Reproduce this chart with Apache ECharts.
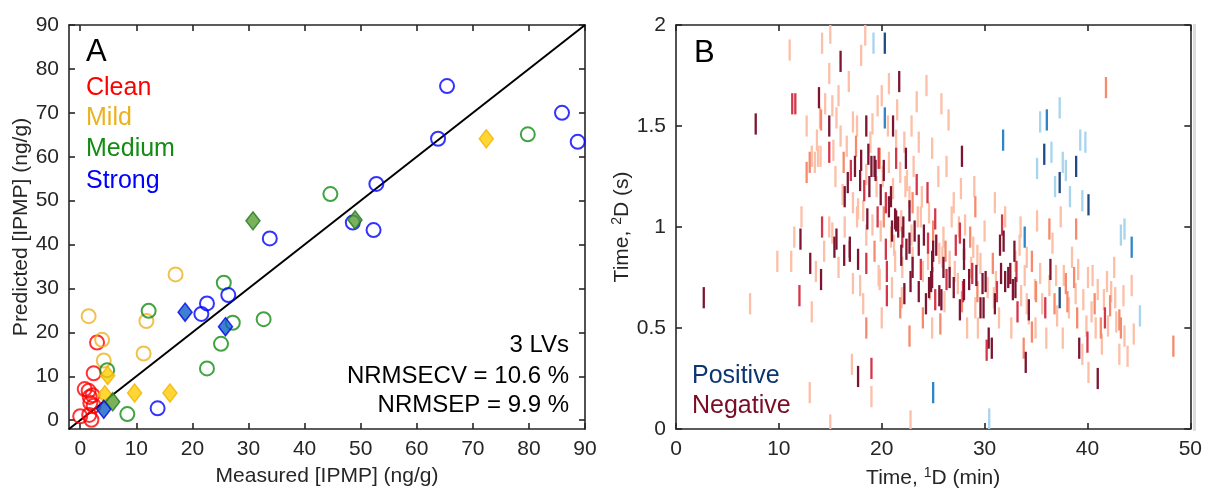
<!DOCTYPE html>
<html><head><meta charset="utf-8">
<script src="https://cdn.jsdelivr.net/npm/echarts@6/dist/echarts.min.js"></script>
<style>html,body{margin:0;padding:0;background:#fff}#c{width:1205px;height:495px}</style>
</head><body><div id="c"></div>
<script>
// ---------- Panel A data: [measured, predicted] ----------
const cleanOpen   = [[0.0,0.9],[0.8,7.1],[1.5,6.7],[2.2,5.7],[1.8,3.9],[1.7,5.3],[2.4,3.3],[1.6,1.2],[2.0,0.1],[2.4,10.7],[3.0,17.7]];
const mildOpen    = [[1.5,23.7],[3.9,18.3],[4.2,13.6],[11.3,15.2],[11.8,22.6],[17.0,33.2]];
const mildTest    = [[4.9,10.2],[4.4,5.8],[9.7,6.2],[16.0,6.2],[72.4,64.1]];
const mediumOpen  = [[4.8,11.4],[8.4,1.4],[12.2,24.9],[22.6,11.8],[25.1,17.4],[25.6,31.3],[27.2,22.2],[32.7,23.0],[44.6,51.5],[79.8,65.1]];
const mediumTest  = [[5.8,4.2],[30.8,45.4],[49.0,45.6]];
const strongOpen  = [[13.8,2.7],[21.6,24.2],[22.6,26.6],[26.4,28.5],[33.8,41.4],[48.6,45.0],[52.3,43.3],[52.8,53.8],[63.8,64.1],[65.4,76.1],[85.9,70.0],[88.7,63.4]];
const strongTest  = [[4.2,2.5],[18.7,24.6],[25.9,21.3]];
const identityEnds = [-2, 90];
const aTicks = [0,10,20,30,40,50,60,70,80,90];
const aRange = [-2, 90];

// ---------- Panel B data: [1D time (min), 2D time (s)] ----------
const negLight = [[11.05,1.876],[14.2,1.91],[15.0,1.96],[18.4,1.95],[14.9,1.76],[20.7,1.71],[20.0,1.65],[14.5,1.61],[15.8,1.65],[15.2,1.60],[12.7,1.50],[14.0,1.54],[17.2,1.52],[17.6,1.50],[19.1,1.51],[20.6,1.50],[13.8,1.35],[13.5,1.32],[17.2,1.12],[18.2,1.08],[17.6,1.05],[14.9,1.00],[9.85,0.83],[11.2,0.83],[13.6,0.78],[7.2,0.62],[13.2,0.58],[17.2,0.72],[17.9,0.71],[19.8,0.74],[17.1,0.32],[19.0,0.16],[13.0,0.18],[15.0,0.02],[24.9,0.50],[19.7,0.76],[21.95,0.65],[26.1,0.63],[27.4,0.72],[24.7,0.69],[22.8,0.04],
  [13.2,1.35],[13.7,1.43],[14.05,1.35],[15.5,1.25],[15.6,1.54],[16.2,1.16],[17.7,1.09],[18.5,1.26],[21.4,1.43],[20.7,1.32],[22.2,1.42],[22.9,1.50],[23.6,1.42],[24.9,1.39],[26.5,1.53],[27.7,1.19],[24.6,1.07],[27.0,1.12],[22.3,1.20],[22.45,1.23],[22.7,1.15],[21.1,1.19],[21.9,1.03],[22.9,0.96],[23.5,1.05],[23.8,1.05],[24.5,0.84],[25.6,0.87],[25.9,0.85],[27.5,1.00],[15.2,0.97],[16.4,1.00],[18.5,0.96],[19.1,1.01],[19.9,0.98],[20.9,0.95],[21.2,0.91],
  [31.0,1.12],[35.1,1.03],[37.4,1.05],[36.6,0.92],[33.4,0.91],[34.1,0.85],[28.1,1.01],[28.9,0.90],[29.3,0.86],[24.35,1.70],[25.8,1.61],
  [29.35,0.50],[28.3,0.50],[29.1,0.60],[33.55,0.66],[33.9,0.76],[34.1,0.62],[34.3,0.57],[34.95,0.50],[34.9,0.69],[36.3,0.71],[36.95,0.76],[37.05,0.56],[37.7,0.76],[38.2,0.60],[38.85,0.67],[39.1,0.79],[39.6,0.64],[40.05,0.75],[40.5,0.76],[39.9,0.51],[39.5,0.37],[40.1,0.28],[40.8,0.50],[41.0,0.69],[41.6,0.64],[41.9,0.73],[42.0,0.51],[42.3,0.68],[42.7,0.65],[42.8,0.53],[43.1,0.37],[43.5,0.66],[43.6,0.46],[43.9,0.36],[44.3,0.71],[44.5,0.47],[31.1,0.73],[35.4,0.77],
  [16.0,1.45],[16.6,1.40],[15.3,1.38],[18.9,1.42],[19.5,1.20],[20.1,1.25],[21.8,1.27],[23.1,1.30],[23.9,1.15],[25.5,1.25],[26.3,1.30],[26.8,1.05],[21.3,0.83],[22.0,0.80],[23.0,0.85],[26.6,0.83],[27.1,0.78],[28.7,0.80],[29.6,0.82],[30.3,0.70],[30.9,0.65],[31.4,0.55],[32.6,0.50],[33.0,0.83],[35.6,0.62],[36.0,0.45],[37.6,0.45],[38.5,0.85],[40.4,0.58],[41.4,0.42],[42.6,0.80],[16.8,1.72],[18.0,1.85],[19.6,1.60],[21.5,1.58],[23.4,1.62],[12.2,1.05],[11.5,0.95],[14.4,0.88],[15.8,0.80],[18.2,0.62],[20.0,0.55],[21.0,0.70],[26.0,0.95],[24.0,0.78],[29.0,1.20],[30.0,0.98],[32.0,1.05],[33.5,1.00]];
const negSalmon = [[12.7,1.27],[19.8,1.34],[18.5,0.50],[22.7,0.46],[25.7,0.52],[29.1,1.10],[36.3,0.99],[38.9,0.99],[34.6,0.83],[28.6,0.95],[34.6,0.48],[33.8,0.40],[37.9,0.72],[38.05,0.63],[38.7,0.75],[41.3,0.50],[42.2,0.61],[43.1,0.54],[43.25,0.50],[48.35,0.41],[41.8,1.69],[14.1,1.53],[13.0,1.32],
  [16.3,1.32],[17.5,1.40],[20.2,1.05],[23.0,1.12],[25.0,0.98],[26.2,0.88],[27.8,0.63],[29.3,0.68],[30.8,0.82],[35.0,0.68],[36.8,0.62],[39.0,0.55],[40.7,0.62],[19.3,0.88],[21.8,0.60],[24.0,0.55]];
const negCrimson = [[11.3,1.61],[11.6,1.61],[14.9,1.37],[21.4,1.34],[14.2,1.00],[18.5,0.82],[20.5,0.66],[12.0,0.66],[19.0,0.30],[25.2,0.64],[27.9,0.68],[20.5,0.78],[19.7,1.34],[24.45,1.17],[23.4,1.21],[20.4,1.12],[24.5,0.92],[25.2,1.04],[27.2,0.91],[27.6,0.97],[20.4,0.89],[31.7,1.01],[33.2,0.58],[35.9,0.60],[30.2,0.39],[41.7,0.55],[40.0,0.43],
  [17.0,1.28],[19.6,1.05],[22.0,0.95],[23.8,0.79],[26.3,0.74],[28.8,0.77],[31.2,0.68],[33.1,0.78],[18.3,1.18]];
const negDark = [[16.0,1.82],[13.9,1.64],[7.75,1.51],[14.9,1.50],[18.5,1.50],[21.1,1.50],[18.0,1.33],[19.0,1.30],[19.4,1.28],[16.7,1.22],[16.4,1.15],[20.9,1.15],[21.3,1.04],[12.1,0.94],[13.05,0.82],[14.1,0.74],[2.7,0.65],[16.35,0.86],[16.9,0.88],[17.7,0.84],[17.7,0.26],[22.2,0.67],[22.8,0.73],[23.6,0.68],[24.3,0.62],[24.8,0.73],[25.6,0.66],[26.6,0.75],[27.6,0.59],[27.8,1.35],[22.35,1.34],[17.9,1.23],[18.7,1.36],[19.3,1.30],[20.7,1.10],[21.4,1.03],[21.6,1.00],[22.1,1.00],[22.4,0.89],[22.7,0.92],[23.2,0.98],[23.6,0.91],[24.1,0.96],[24.9,0.83],[25.3,0.91],[28.0,0.84],[15.6,0.94],[16.9,0.90],[18.6,1.04],[21.7,1.72],[31.5,0.91],[31.85,0.93],[32.9,0.88],[28.0,0.89],[29.8,0.72],[29.6,0.60],[29.9,0.60],[30.4,0.45],[30.7,0.40],[31.6,0.77],[32.0,0.73],[32.3,0.75],[32.5,0.77],[32.75,0.69],[34.3,0.59],[34.0,0.33],[36.4,0.79],[39.2,0.40],[41.0,0.25],[28.0,0.69],[28.5,0.74],[24.9,0.75],[25.8,0.64],[15.4,0.90],
  [17.4,1.30],[18.8,1.20],[19.9,1.16],[21.0,0.98],[21.9,0.86],[23.0,0.80],[24.6,0.70],[25.0,0.88],[26.0,0.80],[27.0,0.70],[29.2,0.76],[30.1,0.73],[31.0,0.62],[33.0,0.70],[20.2,1.28],[22.7,1.08]];
const posLight = [[19.2,1.91],[35.4,1.52],[37.3,1.59],[39.3,1.43],[39.8,1.42],[36.5,1.37],[35.1,1.29],[37.6,1.32],[37.9,1.28],[36.85,1.20],[38.3,1.15],[39.5,1.13],[43.25,0.96],[43.6,0.99],[45.1,0.56],[30.45,0.05]];
const posMid = [[20.3,1.54],[36.05,1.53],[31.8,1.43],[44.3,0.90],[33.9,0.95],[25.0,0.18]];
const posDark = [[20.3,1.91],[35.8,1.36],[38.9,1.30],[37.3,1.22],[40.1,1.11],[37.3,0.65]];
const bXTicks = [0,10,20,30,40,50];
const bYTicks = [0,0.5,1,1.5,2];
const segLen = 0.105;

const FONT = '"Liberation Sans", Arial, sans-serif';
const AX = '#262626';

function boxAxis(gridIndex, pos, range, ticks, showLabel, extra) {
  return Object.assign({
    gridIndex, position: pos, type: 'value', min: range[0], max: range[1],
    axisLine: { show: true, onZero: false, lineStyle: { color: AX, width: 1.6 } },
    axisTick: { show: true, inside: true, length: 6, customValues: ticks, lineStyle: { color: AX, width: 1.6 } },
    axisLabel: { show: showLabel, customValues: ticks, color: AX, fontSize: 21, fontFamily: FONT, margin: 10 },
    splitLine: { show: false }
  }, extra || {});
}

const chart = echarts.init(document.getElementById('c'), null, { renderer: 'canvas' });

function segSeries(name, data, color) {
  return {
    type: 'custom', name, xAxisIndex: 2, yAxisIndex: 2, silent: true, clip: true,
    data,
    renderItem: function (params, api) {
      const x = api.value(0), y = api.value(1);
      const p1 = api.coord([x, y - segLen / 2]);
      const p2 = api.coord([x, y + segLen / 2]);
      return { type: 'line', shape: { x1: p1[0], y1: p1[1], x2: p2[0], y2: p2[1] },
               style: { stroke: color, lineWidth: 2.3 } };
    }
  };
}
function openSeries(name, data, color) {
  return { type: 'scatter', name, xAxisIndex: 0, yAxisIndex: 0, silent: true, data,
    symbol: 'circle', symbolSize: 14,
    itemStyle: { color: 'rgba(0,0,0,0)', borderColor: color, borderWidth: 2 }, z: 3 };
}
function testSeries(name, data, fill, border) {
  return { type: 'scatter', name, xAxisIndex: 0, yAxisIndex: 0, silent: true, data,
    symbol: 'diamond', symbolSize: [14, 18],
    itemStyle: { color: fill, borderColor: border, borderWidth: 1.5 }, z: 4 };
}

const supRich = (size) => ({
  n: { fontSize: size, color: AX, fontFamily: FONT, verticalAlign: 'bottom' },
  s: { fontSize: 14, color: AX, fontFamily: FONT, verticalAlign: 'bottom', padding: [0, 0, 9, 0] }
});

const option = {
  animation: false,
  backgroundColor: '#ffffff',
  textStyle: { fontFamily: FONT },
  grid: [
    { left: 69, top: 25, width: 516, height: 404 },
    { left: 676, top: 25, width: 516, height: 404 }
  ],
  xAxis: [
    boxAxis(0, 'bottom', aRange, aTicks, true, { name: 'Measured [IPMP] (ng/g)', nameLocation: 'middle', nameGap: 37,
      nameTextStyle: { color: AX, fontSize: 21, fontFamily: FONT } }),
    boxAxis(0, 'top', aRange, aTicks, false),
    boxAxis(1, 'bottom', [0, 50], bXTicks, true, { name: '{n|Time, }{s|1}{n|D (min)}', nameLocation: 'middle', nameGap: 37,
      nameTextStyle: { color: AX, fontSize: 21, fontFamily: FONT, rich: supRich(21) } }),
    boxAxis(1, 'top', [0, 50], bXTicks, false)
  ],
  yAxis: [
    boxAxis(0, 'left', aRange, aTicks, true, { name: 'Predicted [IPMP] (ng/g)', nameLocation: 'middle', nameGap: 37,
      nameTextStyle: { color: AX, fontSize: 21, fontFamily: FONT } }),
    boxAxis(0, 'right', aRange, aTicks, false),
    boxAxis(1, 'left', [0, 2], bYTicks, true, { name: '{n|Time, }{s|2}{n|D (s)}', nameLocation: 'middle', nameGap: 42,
      nameTextStyle: { color: AX, fontSize: 21, fontFamily: FONT, rich: supRich(21) } }),
    boxAxis(1, 'right', [0, 2], bYTicks, false)
  ],
  series: [
    { type: 'line', xAxisIndex: 0, yAxisIndex: 0, silent: true, symbol: 'none', z: 2,
      data: [[identityEnds[0], identityEnds[0]], [identityEnds[1], identityEnds[1]]],
      lineStyle: { color: '#000', width: 2 } },
    openSeries('Clean', cleanOpen, '#ff0000'),
    openSeries('Mild', mildOpen, '#edb120'),
    openSeries('Medium', mediumOpen, '#138c13'),
    openSeries('Strong', strongOpen, '#0000ff'),
    testSeries('Mild test', mildTest, '#ffcc00', '#f2b200'),
    testSeries('Medium test', mediumTest, '#5b9e33', '#1d7a1d'),
    testSeries('Strong test', strongTest, '#0f62c4', '#0000ee'),
    segSeries('neg1', negLight, '#fcbfa7'),
    segSeries('neg2', negSalmon, '#f58b6c'),
    segSeries('pos1', posLight, '#a8d4ec'),
    segSeries('neg3', negCrimson, '#d4374a'),
    segSeries('neg4', negDark, '#7d1530'),
    segSeries('pos2', posMid, '#2f86c6'),
    segSeries('pos3', posDark, '#1f4b82')
  ],
  graphic: [
    { type: 'rect', shape: { x: 1193, y: 24, width: 3, height: 407 }, style: { fill: '#dcdcdc' }, silent: true },
    { type: 'text', x: 86, y: 52, style: { text: 'A', fill: '#000', font: '31px ' + FONT, align: 'left', verticalAlign: 'middle' } },
    { type: 'text', x: 86, y: 88, style: { text: 'Clean', fill: '#ff0000', font: '25px ' + FONT, align: 'left', verticalAlign: 'middle' } },
    { type: 'text', x: 86, y: 118, style: { text: 'Mild', fill: '#edb120', font: '25px ' + FONT, align: 'left', verticalAlign: 'middle' } },
    { type: 'text', x: 86, y: 149, style: { text: 'Medium', fill: '#138c13', font: '25px ' + FONT, align: 'left', verticalAlign: 'middle' } },
    { type: 'text', x: 86, y: 181, style: { text: 'Strong', fill: '#0000ff', font: '25px ' + FONT, align: 'left', verticalAlign: 'middle' } },
    { type: 'text', x: 569, y: 345, style: { text: '3 LVs', fill: '#000', font: '24px ' + FONT, align: 'right', verticalAlign: 'middle' } },
    { type: 'text', x: 569, y: 376, style: { text: 'NRMSECV = 10.6 %', fill: '#000', font: '24px ' + FONT, align: 'right', verticalAlign: 'middle' } },
    { type: 'text', x: 569, y: 405, style: { text: 'NRMSEP = 9.9 %', fill: '#000', font: '24px ' + FONT, align: 'right', verticalAlign: 'middle' } },
    { type: 'text', x: 694, y: 53, style: { text: 'B', fill: '#000', font: '31px ' + FONT, align: 'left', verticalAlign: 'middle' } },
    { type: 'text', x: 692, y: 376, style: { text: 'Positive', fill: '#0d3570', font: '25px ' + FONT, align: 'left', verticalAlign: 'middle' } },
    { type: 'text', x: 692, y: 406, style: { text: 'Negative', fill: '#7a0c24', font: '25px ' + FONT, align: 'left', verticalAlign: 'middle' } }
  ]
};
chart.setOption(option);
</script>
</body></html>
